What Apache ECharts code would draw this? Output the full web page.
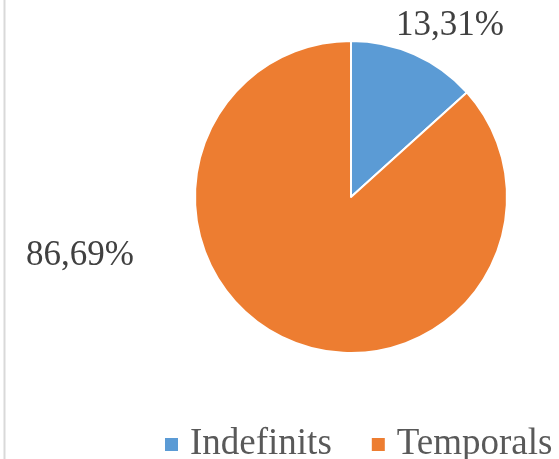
<!DOCTYPE html>
<html>
<head>
<meta charset="utf-8">
<script src="https://cdn.jsdelivr.net/npm/echarts@6/dist/echarts.min.js"></script>
<style>
  html, body { margin: 0; padding: 0; background: #fff; }
  #chart { width: 559px; height: 459px; }
</style>
</head>
<body>
<div id="chart"></div>
<script>
const categories = ['Indefinits', 'Temporals']
const shares = [13.31, 86.69]
const colors = ['#5B9BD5', '#ED7D31']

// where the percentage labels sit, one per slice
const labelSpots = [[450, 26], [80, 256]]

const chart = echarts.init(document.getElementById('chart'))
chart.setOption({
  animation: false,
  color: colors,
  textStyle: { fontFamily: 'Liberation Serif' },
  graphic: [{
    type: 'line',
    shape: { x1: 4.5, y1: 0, x2: 4.5, y2: 459 },
    style: { stroke: '#d9d9d9', lineWidth: 2 }
  }],
  legend: {
    data: categories,
    left: 158,
    top: 421,
    icon: 'rect',
    itemWidth: 15,
    itemHeight: 15,
    itemGap: 38,
    textStyle: {
      fontSize: 37,
      color: '#595959',
      fontFamily: 'Liberation Serif',
      padding: [0, 0, 0, 6]
    }
  },
  series: [{
    type: 'pie',
    center: [351, 197],
    radius: [0, 156],
    startAngle: 90,
    clockwise: true,
    itemStyle: { borderColor: '#fff', borderWidth: 2 },
    label: {
      show: true,
      position: 'outside',
      overflow: 'none',
      fontSize: 35,
      color: '#404040',
      fontFamily: 'Liberation Serif',
      formatter: p => p.value.toFixed(2).replace('.', ',') + '%'
    },
    labelLine: { show: false },
    labelLayout: p => ({
      x: labelSpots[p.dataIndex][0],
      y: labelSpots[p.dataIndex][1],
      align: 'center',
      verticalAlign: 'middle'
    }),
    data: categories.map((name, i) => ({ name, value: shares[i] }))
  }]
})
</script>
</body>
</html>
